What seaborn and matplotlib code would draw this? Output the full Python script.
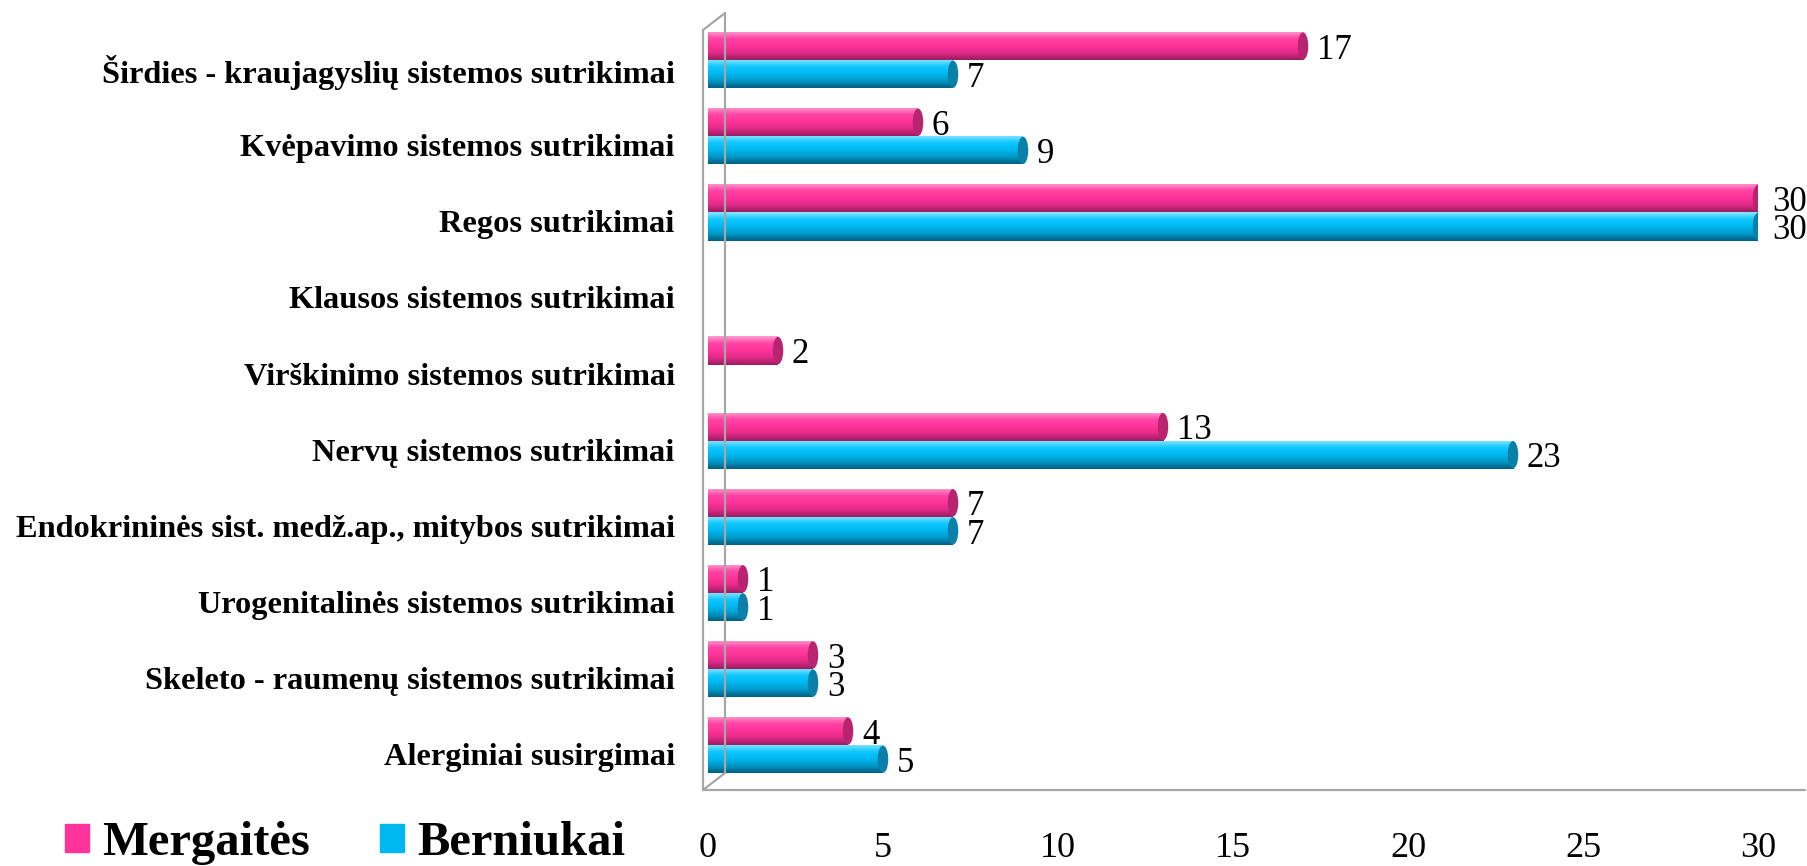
import numpy as np
import pandas as pd
import seaborn as sns
import matplotlib
matplotlib.use("Agg")
import matplotlib.pyplot as plt
from matplotlib.lines import Line2D
from matplotlib.patches import Patch, Ellipse
from matplotlib.colors import LinearSegmentedColormap
from matplotlib.transforms import ScaledTranslation

categories = [
    "Širdies - kraujagyslių sistemos sutrikimai",
    "Kvėpavimo sistemos sutrikimai",
    "Regos sutrikimai",
    "Klausos sistemos sutrikimai",
    "Virškinimo sistemos sutrikimai",
    "Nervų sistemos sutrikimai",
    "Endokrininės sist. medž.ap., mitybos sutrikimai",
    "Urogenitalinės sistemos sutrikimai",
    "Skeleto - raumenų sistemos sutrikimai",
    "Alerginiai susirgimai",
]
girls = [17, 6, 30, 0, 2, 13, 7, 1, 3, 4]
boys = [7, 9, 30, 0, 0, 23, 7, 1, 3, 5]
series_names = ["Mergaitės", "Berniukai"]
x_ticks = [0, 5, 10, 15, 20, 25, 30]

sns.set_theme(style="white")
plt.rcParams["font.family"] = ["Liberation Serif", "DejaVu Serif"]
plt.rcParams["text.color"] = "black"
plt.rcParams["xtick.color"] = "black"
plt.rcParams["ytick.color"] = "black"

W, H = 1808, 866
fig = plt.figure(figsize=(W / 100, H / 100), dpi=100)
ax = fig.add_axes([708 / W, (H - 790) / H, 1050 / W, 777 / H])

df = pd.DataFrame({
    "cat": categories * 2,
    "val": girls + boys,
    "grp": [series_names[0]] * len(categories) + [series_names[1]] * len(categories),
})
pink, blue = "#FF3399", "#00B8F0"
sns.barplot(data=df, y="cat", x="val", hue="grp", order=categories,
            hue_order=series_names, palette=[pink, blue], width=0.74,
            orient="h", ax=ax, legend=False, saturation=1, errorbar=None)

ax.set_xlim(0, 30)
ax.set_ylim(9.59, -0.62)

grads = {
    0: LinearSegmentedColormap.from_list("p", ["#ff9ccc", "#ff44a6", "#FF3399", "#e02a88", "#9c1c5e"]),
    1: LinearSegmentedColormap.from_list("b", ["#8ae4ff", "#10c8ff", "#00B8F0", "#0098c8", "#005f80"]),
}
caps = {0: "#b8246f", 1: "#0a7fa8"}
grad = np.linspace(0, 1, 64).reshape(-1, 1)
values = [girls, boys]
n = len(categories)
for i, p in enumerate(list(ax.patches)[: 2 * n]):
    g = i // n
    v = values[g][i % n]
    if v <= 0:
        continue
    x0, y0, w, h = p.get_x(), p.get_y(), p.get_width(), p.get_height()
    im = ax.imshow(grad, cmap=grads[g], aspect="auto", origin="upper",
                   extent=(x0, x0 + w, y0 + h, y0), zorder=3, interpolation="bilinear")
    im.set_clip_path(p)
    ax.add_patch(Ellipse((x0 + w, y0 + h / 2), width=0.3, height=h * 0.97,
                         facecolor=caps[g], edgecolor="none", zorder=4))
    ax.annotate(str(v), (x0 + w, y0 + h / 2), xytext=(10, -3),
                textcoords="offset points", ha="left", va="center",
                fontsize=25, color="black", zorder=5)

ax.set_xlim(0, 30)
ax.set_ylim(9.59, -0.62)
ax.set_xticks(x_ticks)
ax.set_xticklabels([str(t) for t in x_ticks], fontsize=26)
ax.tick_params(axis="x", length=0, pad=30)
ax.tick_params(axis="y", length=0, pad=24)
for lab in ax.get_yticklabels():
    lab.set_fontweight("bold")
    lab.set_fontsize(23.3)
    lab.set_color("black")
    lab.set_transform(lab.get_transform() + ScaledTranslation(0, -9 / 100, fig.dpi_scale_trans))
ax.set_xlabel("")
ax.set_ylabel("")
for s in ax.spines.values():
    s.set_visible(False)
ax.patch.set_alpha(0)

gray = "#a6a6a6"
def line(xs, ys):
    fig.add_artist(Line2D([x / W for x in xs], [(H - y) / H for y in ys],
                          transform=fig.transFigure, color=gray, lw=1.6, zorder=1))
line([703, 703], [30, 790])
line([703, 725], [30, 13])
line([725, 725], [13, 773])
line([703, 1805], [790, 790])
line([703, 725], [790, 773])

handles = [Patch(color=pink), Patch(color=blue)]
fig.legend(handles=handles, labels=series_names, loc="center left",
           bbox_to_anchor=(65 / W, (H - 843) / H), ncol=2, frameon=False,
           prop={"weight": "bold", "size": 35}, handlelength=0.49, handleheight=0.51,
           handletextpad=0.27, columnspacing=1.44, borderpad=0, borderaxespad=0)

fig.savefig("out.png", dpi=100)
